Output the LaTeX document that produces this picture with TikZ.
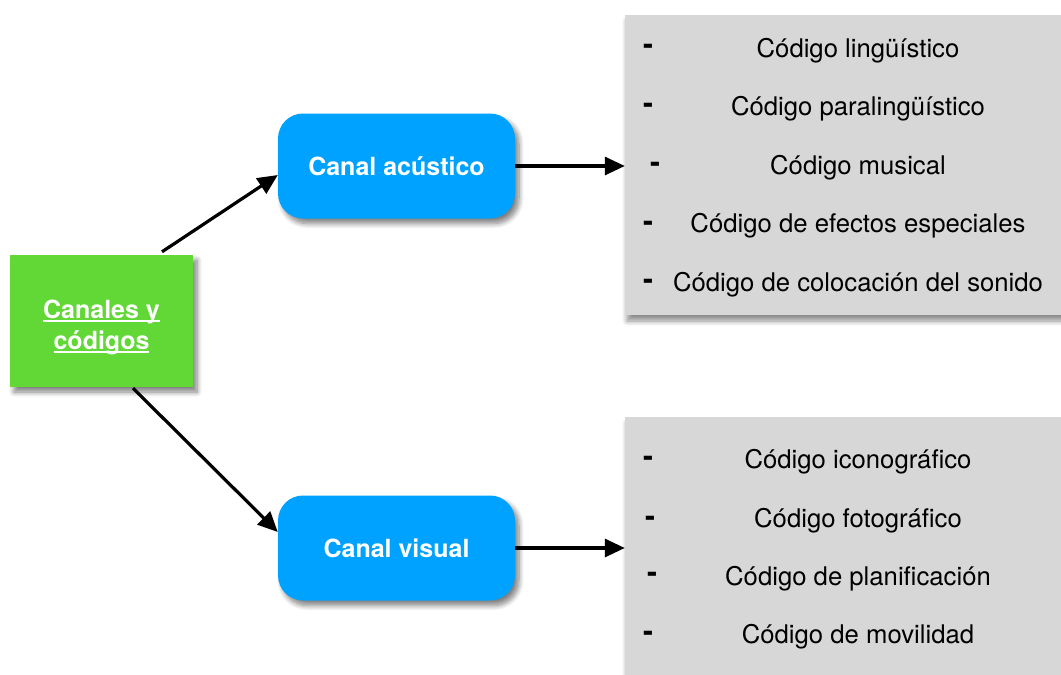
\documentclass[tikz,border=0pt]{standalone}
\usepackage{fontspec}
\setmainfont{TeX Gyre Heros}
\usetikzlibrary{arrows.meta,shadows.blur}
\definecolor{kgreen}{RGB}{97,216,54}
\definecolor{kblue}{RGB}{0,162,255}
\definecolor{kgray}{RGB}{215,215,215}
\newcommand\myul[1]{\setbox0\hbox{#1}\rlap{\rule[-4.2pt]{\wd0}{1.9pt}}\box0}
\begin{document}
\begin{tikzpicture}[x=1pt,y=-1pt,
  font=\fontsize{25.7}{32}\selectfont,
  shadowed/.style={blur shadow={shadow xshift=4pt, shadow yshift=-5pt, shadow blur steps=8, shadow blur radius=5pt, shadow opacity=50}},
  greenbox/.style={shadowed, fill=kgreen, minimum width=183pt, minimum height=132pt, inner sep=0pt},
  greentext/.style={inner sep=0pt, text=white, font=\fontsize{25}{31}\selectfont\bfseries, align=center},
  bluebox/.style={shadowed, fill=kblue, rounded corners=25pt, minimum width=237pt, minimum height=105pt, inner sep=0pt,
    text=white, font=\fontsize{25}{32}\selectfont\bfseries, text height=18pt, text depth=0pt},
  graybox/.style={blur shadow={shadow xshift=2pt, shadow yshift=-6pt, shadow blur steps=8, shadow blur radius=5pt, shadow opacity=45},
    fill=kgray, inner sep=0pt},
  item/.style={anchor=base, inner sep=0pt},
  dashmark/.style={anchor=base, inner sep=0pt, font=\fontsize{30}{32}\selectfont\bfseries},
  conn/.style={-{Triangle[length=20pt,width=18pt]}, line width=3.2pt}]
\useasboundingbox (0,0) rectangle (1061,675);

% grey panels
\node[graybox, minimum width=450pt, minimum height=300pt] (g1) at (850,165) {};
\node[graybox, minimum width=450pt, minimum height=283pt] (g2) at (850,558.5) {};

% items, acoustic
\node[dashmark] (d1) at (648,54.5) {-};
\node[dashmark] (d2) at (648,113.5) {-};
\node[dashmark] (d3) at (655,172) {-};
\node[dashmark] (d4) at (648,231) {-};
\node[dashmark] (d5) at (648,289) {-};
\node[item] (a1) at (858,57) {Código lingüístico};
\node[item] (a2) at (858,115) {Código paralingüístico};
\node[item] (a3) at (858,174) {Código musical};
\node[item] (a4) at (858,232) {Código de efectos especiales};
\node[item] (a5) at (858,291) {Código de colocación del sonido};

% items, visual
\node[dashmark] (e1) at (648,466) {-};
\node[dashmark] (e2) at (650,526) {-};
\node[dashmark] (e3) at (652,582) {-};
\node[dashmark] (e4) at (648,641) {-};
\node[item] (b1) at (858,468) {Código iconográfico};
\node[item] (b2) at (858,527) {Código fotográfico};
\node[item] (b3) at (858,585) {Código de planificación};
\node[item] (b4) at (858,643) {Código de movilidad};

% main boxes
\node[greenbox] (green) at (101.5,321) {};
\node[greentext] (gtext) at ([yshift=-6pt]green.center) {\myul{Canales y}\\\myul{códigos}};
\node[bluebox] (acu) at (396.5,166) {Canal acústico};
\node[bluebox] (vis) at (396.5,548) {Canal visual};

% connectors
\draw[conn] ([xshift=60.5pt,yshift=3pt]green.north) -- ([yshift=-9pt]acu.west);
\draw[conn] ([xshift=31.5pt,yshift=-1pt]green.south) -- ([yshift=16pt]vis.west);
\draw[conn] (acu.east) -- (acu.east -| g1.west);
\draw[conn] (vis.east) -- (vis.east -| g2.west);
\end{tikzpicture}
\end{document}
